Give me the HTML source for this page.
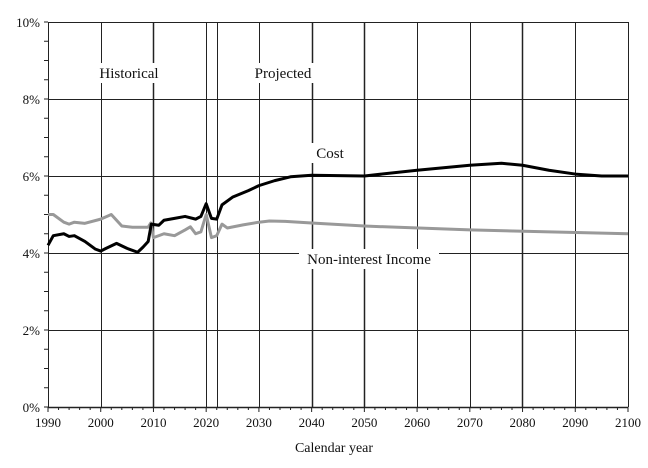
<!DOCTYPE html>
<html><head><style>body{margin:0;background:#fff}svg{display:block}text{font-family:"Liberation Serif",serif;fill:#111}</style></head>
<body>
<svg width="648" height="468" xmlns="http://www.w3.org/2000/svg">
<g stroke="#222" stroke-width="1">
<line x1="48" y1="22.5" x2="628" y2="22.5"/>
<line x1="48" y1="99.5" x2="628" y2="99.5"/>
<line x1="48" y1="176.5" x2="628" y2="176.5"/>
<line x1="48" y1="253.5" x2="628" y2="253.5"/>
<line x1="48" y1="330.5" x2="628" y2="330.5"/>
<line x1="48" y1="407.5" x2="628" y2="407.5" stroke-width="1.5"/>
<line x1="48.5" y1="22" x2="48.5" y2="407"/>
<line x1="101.5" y1="22" x2="101.5" y2="407"/>
<line x1="153.5" y1="22" x2="153.5" y2="407" stroke-width="1.5"/>
<line x1="206.5" y1="22" x2="206.5" y2="407"/>
<line x1="217.5" y1="22" x2="217.5" y2="407"/>
<line x1="259.5" y1="22" x2="259.5" y2="407"/>
<line x1="312.5" y1="22" x2="312.5" y2="407" stroke-width="1.5"/>
<line x1="364.5" y1="22" x2="364.5" y2="407" stroke-width="1.5"/>
<line x1="417.5" y1="22" x2="417.5" y2="407"/>
<line x1="470.5" y1="22" x2="470.5" y2="407"/>
<line x1="522.5" y1="22" x2="522.5" y2="407" stroke-width="1.5"/>
<line x1="575.5" y1="22" x2="575.5" y2="407"/>
<line x1="628.5" y1="22" x2="628.5" y2="407"/>
</g>
<g id="yt" stroke="#222"></g>
<g id="xt" stroke="#222"></g>
<g fill="#fff">
<rect x="93" y="63" width="72" height="20"/>
<rect x="249" y="63" width="68" height="20"/>
<rect x="311" y="143" width="38" height="20"/>
<rect x="299" y="249" width="140" height="20"/>
</g>
<g transform="translate(48,407) scale(5.2727,-38.5)" fill="none" stroke-linejoin="round">
<polyline vector-effect="non-scaling-stroke" stroke="#999" stroke-width="3" points="0,5 1,5 3,4.8 4,4.75 5,4.8 7,4.77 10,4.88 12,5 13,4.85 14,4.7 16,4.67 19,4.67 19.5,4.78 20,4.4 22,4.5 24,4.45 26,4.6 27,4.68 28,4.5 29,4.55 30,5 31,4.4 32,4.45 33,4.75 34,4.65 37,4.73 40,4.8 42,4.83 45,4.82 50,4.78 60,4.7 80,4.6 110,4.5"/>
<polyline vector-effect="non-scaling-stroke" stroke="#000" stroke-width="3" points="0,4.2 1,4.45 3,4.5 4,4.43 5,4.45 7,4.3 9,4.1 10,4.05 11,4.12 13,4.25 15,4.12 17,4.02 18,4.15 19,4.3 19.6,4.75 21,4.72 22,4.85 24,4.9 26,4.95 28,4.88 29,4.95 30,5.28 31,4.9 32,4.88 33,5.25 35,5.45 38,5.62 40,5.75 43,5.88 46,5.98 50,6.02 60,6 70,6.15 80,6.28 86,6.33 90,6.28 95,6.15 100,6.05 105,6 110,6"/>
</g>
<g font-size="13" text-anchor="end">
<text x="40" y="27">10%</text><text x="40" y="104">8%</text><text x="40" y="181">6%</text><text x="40" y="258">4%</text><text x="40" y="335">2%</text><text x="40" y="412">0%</text>
</g>
<g font-size="13" text-anchor="middle" id="xl"></g>
<text x="334" y="452" font-size="14" text-anchor="middle">Calendar year</text>
<text x="129" y="78" font-size="15" text-anchor="middle">Historical</text>
<text x="283" y="78" font-size="15" text-anchor="middle">Projected</text>
<text x="330" y="158" font-size="15" text-anchor="middle">Cost</text>
<text x="369" y="264" font-size="15" text-anchor="middle">Non-interest Income</text>
<script>
var ns="http://www.w3.org/2000/svg";
var yt=document.getElementById('yt');
for(var i=0;i<=20;i++){var y=407-i*19.25;var l=document.createElementNS(ns,'line');l.setAttribute('x1',44);l.setAttribute('x2',48);l.setAttribute('y1',y);l.setAttribute('y2',y);yt.appendChild(l);}
var xt=document.getElementById('xt');
for(var yr=1990;yr<=2100;yr+=2){var x=48+(yr-1990)*5.2727;var l=document.createElementNS(ns,'line');l.setAttribute('x1',x);l.setAttribute('x2',x);l.setAttribute('y1',407);l.setAttribute('y2',yr%10==0?412:410);xt.appendChild(l);}
var xl=document.getElementById('xl');
for(var yr=1990;yr<=2100;yr+=10){var t=document.createElementNS(ns,'text');t.setAttribute('x',48+(yr-1990)*5.2727);t.setAttribute('y',427);t.textContent=yr;xl.appendChild(t);}
</script>
</svg>
</body></html>
